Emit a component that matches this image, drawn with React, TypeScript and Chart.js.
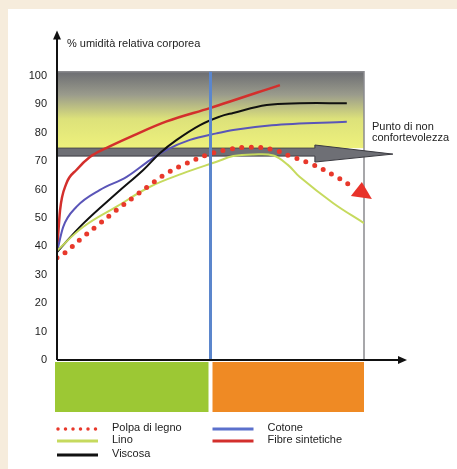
import React, { useEffect, useRef } from "react";
import { Chart, registerables } from "chart.js";

Chart.register(...registerables);

// ---- data ----
const yTicks = [0, 10, 20, 30, 40, 50, 60, 70, 80, 90, 100];

const polpaX = [0, 2.6, 8.6, 14, 19.4, 24.8, 30.3, 35.7, 42.2, 48.8, 56.4, 62.9, 69.9, 75.9, 83.5, 90, 95.4];
const polpaY = [36, 37.8, 43.4, 48.1, 52.8, 57.2, 61.6, 65.7, 69.2, 72.2, 74.2, 74.9, 74.2, 71.8, 68.7, 65.1, 61.6];

const linoX = [0, 8.6, 19.4, 30.3, 41, 52, 57.4, 64, 70.5, 75.2, 79, 90, 100];
const linoY = [38.5, 46.9, 54, 61, 65.7, 69.8, 71.8, 72.4, 72, 68.7, 64.5, 55.2, 48.2];

const viscosaX = [0, 8.6, 19.4, 28.1, 33.5, 39, 46.6, 53, 57.4, 68.3, 79, 94.4];
const viscosaY = [38, 48.1, 58.7, 66.9, 72.8, 77.5, 82.7, 85.7, 87, 89.8, 90.4, 90.4];

const cotoneX = [0, 2, 6.4, 14, 22.7, 30.3, 35.7, 43.3, 52, 57.4, 70, 94.4];
const cotoneY = [38, 46.8, 54, 59.9, 64.5, 70.4, 74, 77.5, 79.8, 81, 82.7, 83.9];

const fibreX = [0, 1, 3, 6.4, 10.7, 16, 24.8, 35.7, 49.8, 72.6];
const fibreY = [38, 52.8, 62, 67, 71.5, 74.6, 79, 84, 88.7, 96.8];

const seriesLabels = ["Polpa di legno", "Lino", "Viscosa", "Cotone", "Fibre sintetiche"];
const seriesColors = ["#e8382b", "#c6da5e", "#111111", "#5a55b8", "#d32f2c"];

const yTitle = "% umidità relativa corporea";
const discomfortLabel = ["Punto di non", "confortevolezza"];

// zones (in data units)
const boxTop = 101.5;
const bandTop = 74.6;
const bandBottom = 71.8;
const bandHeadStart = 84;
const bandHeadTip = 109.4;
const bandHeadTop = 75.7;
const bandHeadBottom = 69.7;
const bandTipY = 72.5;
const dividerX = 50;
const axisTopY = 116;
const axisRightX = 114;
const phaseColors = ["#9cc834", "#ef8a24"];

const toPts = (xs: number[], ys: number[]) => xs.map((x, i) => ({ x, y: ys[i] }));

const FONT = "'Liberation Sans', Arial, sans-serif";

const decor = {
  id: "decor",
  beforeDraw(chart: any) {
    const ctx = chart.ctx;
    const { width, height } = chart;
    ctx.save();
    ctx.fillStyle = "#ffffff";
    ctx.fillRect(0, 0, width, height);
    ctx.fillStyle = "#f6ecdc";
    ctx.fillRect(0, 0, width, 9);
    ctx.fillRect(0, 0, 8, height);
    ctx.restore();
  },
  beforeDatasetsDraw(chart: any) {
    const ctx = chart.ctx;
    const a = chart.chartArea;
    const xs = chart.scales.x;
    const ys = chart.scales.y;
    const top = ys.getPixelForValue(boxTop);
    const bt = ys.getPixelForValue(bandTop);
    const bb = ys.getPixelForValue(bandBottom);
    ctx.save();
    const g = ctx.createLinearGradient(0, top, 0, bt);
    g.addColorStop(0, "#6c6d72");
    g.addColorStop(0.3, "#9a9b8c");
    g.addColorStop(0.62, "#dde27a");
    g.addColorStop(1, "#eef17c");
    ctx.fillStyle = g;
    ctx.fillRect(a.left, top, a.right - a.left, bt - top);
    ctx.strokeStyle = "#8a8a8e";
    ctx.lineWidth = 1.5;
    ctx.beginPath();
    ctx.moveTo(a.left, top);
    ctx.lineTo(a.right, top);
    ctx.lineTo(a.right, a.bottom);
    ctx.stroke();
    const hs = xs.getPixelForValue(bandHeadStart);
    const tip = xs.getPixelForValue(bandHeadTip);
    ctx.beginPath();
    ctx.moveTo(a.left, bt);
    ctx.lineTo(hs, bt);
    ctx.lineTo(hs, ys.getPixelForValue(bandHeadTop));
    ctx.lineTo(tip, ys.getPixelForValue(bandTipY));
    ctx.lineTo(hs, ys.getPixelForValue(bandHeadBottom));
    ctx.lineTo(hs, bb);
    ctx.lineTo(a.left, bb);
    ctx.closePath();
    ctx.fillStyle = "#6e6f75";
    ctx.fill();
    ctx.strokeStyle = "#3a3a40";
    ctx.lineWidth = 1;
    ctx.stroke();
    const mid = xs.getPixelForValue(dividerX);
    ctx.fillStyle = phaseColors[0];
    ctx.fillRect(a.left - 2, a.bottom + 2, mid - 2 - (a.left - 2), 50);
    ctx.fillStyle = phaseColors[1];
    ctx.fillRect(mid + 2, a.bottom + 2, a.right - mid - 2, 50);
    ctx.restore();
  },
  afterDatasetsDraw(chart: any) {
    const ctx = chart.ctx;
    const a = chart.chartArea;
    const xs = chart.scales.x;
    const ys = chart.scales.y;
    ctx.save();
    const mid = xs.getPixelForValue(dividerX);
    ctx.strokeStyle = "#5b86cc";
    ctx.lineWidth = 3;
    ctx.beginPath();
    ctx.moveTo(mid, ys.getPixelForValue(boxTop));
    ctx.lineTo(mid, a.bottom + 1);
    ctx.stroke();
    const meta = chart.getDatasetMeta(0);
    const last = meta.data[meta.data.length - 1];
    ctx.fillStyle = "#e8322a";
    ctx.beginPath();
    ctx.moveTo(last.x + 12, last.y - 3);
    ctx.lineTo(last.x + 22, last.y + 14);
    ctx.lineTo(last.x + 1, last.y + 11);
    ctx.closePath();
    ctx.fill();
    ctx.strokeStyle = "#111";
    ctx.fillStyle = "#111";
    ctx.lineWidth = 2;
    const yTopPx = ys.getPixelForValue(axisTopY);
    const xRightPx = xs.getPixelForValue(axisRightX);
    ctx.beginPath();
    ctx.moveTo(a.left, a.bottom);
    ctx.lineTo(a.left, yTopPx + 6);
    ctx.moveTo(a.left, a.bottom);
    ctx.lineTo(xRightPx - 6, a.bottom);
    ctx.stroke();
    ctx.beginPath();
    ctx.moveTo(a.left, yTopPx);
    ctx.lineTo(a.left - 4, yTopPx + 9);
    ctx.lineTo(a.left + 4, yTopPx + 9);
    ctx.closePath();
    ctx.fill();
    ctx.beginPath();
    ctx.moveTo(xRightPx, a.bottom);
    ctx.lineTo(xRightPx - 9, a.bottom - 4);
    ctx.lineTo(xRightPx - 9, a.bottom + 4);
    ctx.closePath();
    ctx.fill();
    ctx.font = `11px ${FONT}`;
    ctx.fillStyle = "#222";
    ctx.textBaseline = "middle";
    ctx.textAlign = "left";
    ctx.fillText(yTitle, a.left + 10, yTopPx + 13);
    ctx.fillText(discomfortLabel[0], a.right + 8, ys.getPixelForValue(bandTop) - 21);
    ctx.fillText(discomfortLabel[1], a.right + 8, ys.getPixelForValue(bandTop) - 10);
    const cols = [a.left, mid + 2];
    const rows = [a.bottom + 69, a.bottom + 81, a.bottom + 95];
    [0, 1, 2, 3, 4].forEach((di, k) => {
      const col = k < 3 ? 0 : 1;
      const row = k < 3 ? k : k - 3;
      const x0 = cols[col];
      const yy = rows[row];
      if (di === 0) {
        ctx.lineWidth = 3.5;
        ctx.lineCap = "round";
        ctx.setLineDash([0, 7.5]);
      } else {
        ctx.lineWidth = 3;
        ctx.lineCap = "butt";
        ctx.setLineDash([]);
      }
      ctx.strokeStyle = di === 3 ? "#5b70cc" : seriesColors[di];
      ctx.beginPath();
      ctx.moveTo(x0 + (di === 0 ? 1 : 0), yy);
      ctx.lineTo(x0 + 41, yy);
      ctx.stroke();
      ctx.setLineDash([]);
      ctx.fillStyle = "#222";
      ctx.fillText(seriesLabels[di], x0 + 55, yy - 1);
    });
    ctx.restore();
  },
};

export default function App() {
  const ref = useRef<HTMLCanvasElement>(null);
  useEffect(() => {
    if (!ref.current) return;
    Chart.defaults.font.family = FONT;
    Chart.defaults.font.size = 11;
    Chart.defaults.color = "#222";
    const ds = (i: number, pts: any[], extra: any = {}) => ({
      label: seriesLabels[i],
      data: pts,
      borderColor: seriesColors[i],
      borderWidth: 2,
      pointRadius: 0,
      tension: 0.4,
      fill: false,
      ...extra,
    });
    const chart = new Chart(ref.current, {
      type: "line",
      data: {
        datasets: [
          ds(0, toPts(polpaX, polpaY), { borderWidth: 5, borderDash: [0, 9.5], borderCapStyle: "round" }),
          ds(1, toPts(linoX, linoY)),
          ds(2, toPts(viscosaX, viscosaY)),
          ds(3, toPts(cotoneX, cotoneY), { cubicInterpolationMode: "monotone" }),
          ds(4, toPts(fibreX, fibreY), { borderWidth: 2.5, cubicInterpolationMode: "monotone" }),
        ],
      },
      options: {
        responsive: false,
        animation: false,
        devicePixelRatio: 1,
        layout: { padding: { left: 0, right: 93, top: 76, bottom: 109 } },
        plugins: { legend: { display: false }, tooltip: { enabled: false } },
        scales: {
          x: { type: "linear", min: 0, max: 100, display: false },
          y: {
            type: "linear",
            min: 0,
            max: 100,
            afterFit: (s: any) => {
              s.width = 57;
            },
            afterBuildTicks: (s: any) => {
              s.ticks = yTicks.map((v) => ({ value: v }));
            },
            grid: { display: false, drawTicks: false },
            border: { display: false },
            ticks: { padding: 10, color: "#222", font: { size: 11 } },
          },
        },
      },
      plugins: [decor],
    } as any);
    return () => chart.destroy();
  }, []);
  return (
    <div style={{ position: "fixed", left: 0, top: 0, width: 457, height: 469 }}>
      <canvas ref={ref} width={457} height={469} />
    </div>
  );
}
